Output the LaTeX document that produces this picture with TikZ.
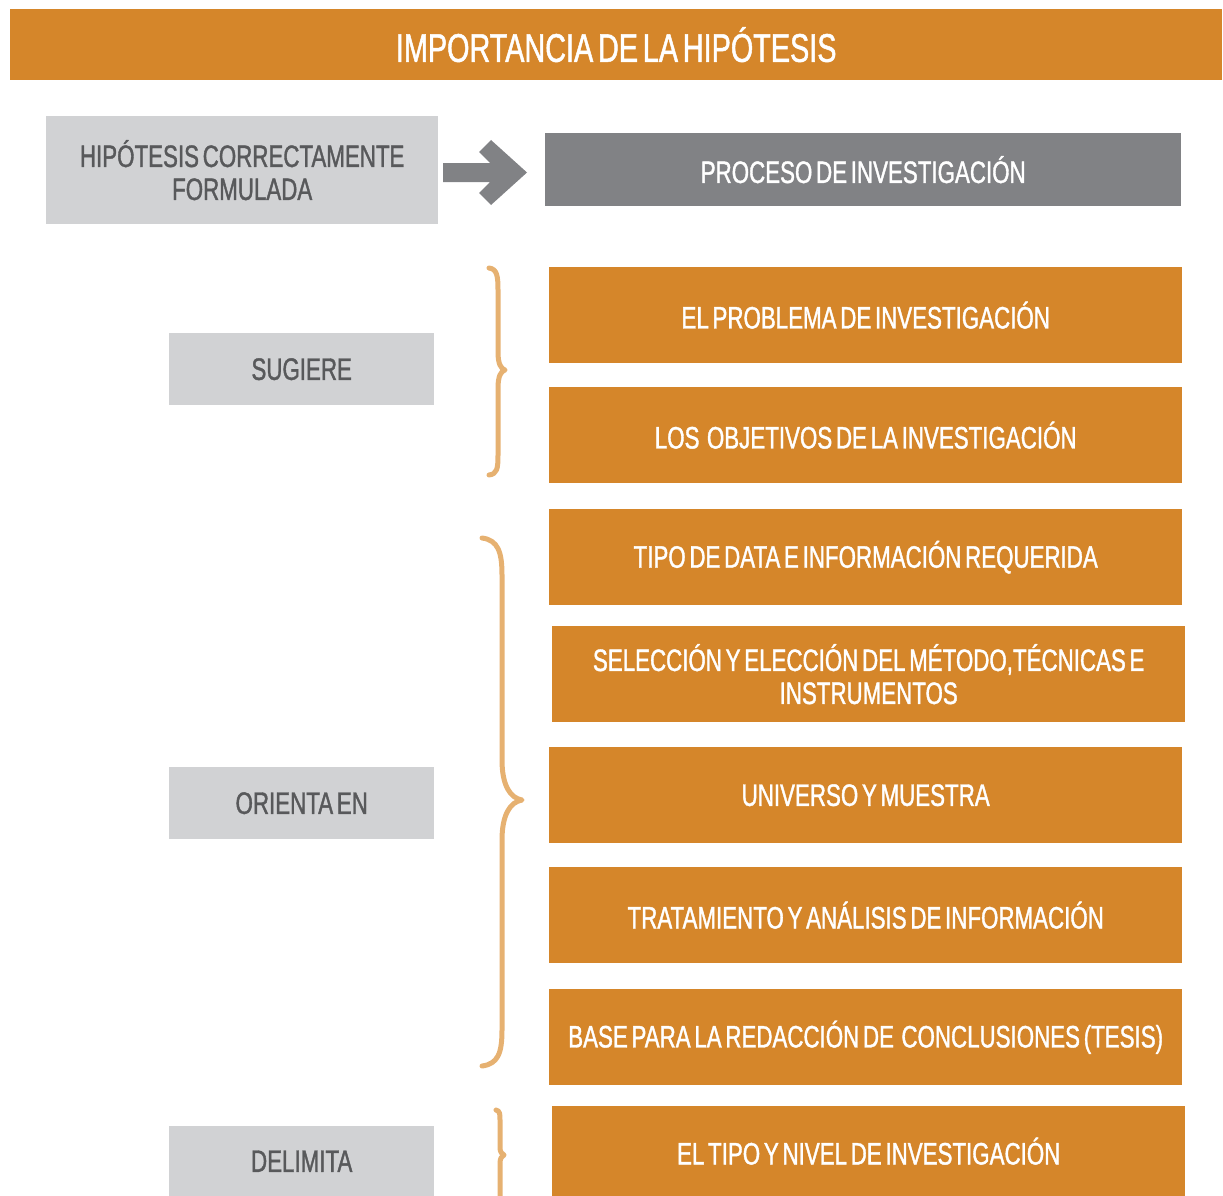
\documentclass[tikz,border=0pt]{standalone}
\usepackage{fontspec}
\setmainfont{Liberation Sans}[FakeStretch=0.72, FakeBold=1.2, WordSpace=0.6]
\definecolor{orng}{HTML}{D5862A}
\definecolor{lgray}{HTML}{D1D2D4}
\definecolor{dgray}{HTML}{818285}
\definecolor{tgray}{HTML}{58595B}
\definecolor{brc}{HTML}{E6B171}
\tikzset{
  obox/.style={fill=orng, text=white, inner sep=0pt, anchor=north west, align=center, font=\fontsize{31}{33}\selectfont},
  gbox/.style={fill=lgray, text=tgray, inner sep=0pt, anchor=north west, align=center, font=\fontsize{31}{33}\selectfont},
  brace/.style={draw=brc, line width=5pt, line cap=round, line join=round}
}
\begin{document}
\begin{tikzpicture}[x=1pt,y=-1pt]
\path[use as bounding box] (0,0) rectangle (1223,1196);
\node[obox, minimum width=1212pt, minimum height=71pt, font=\fontsize{40}{42}\selectfont] (title) at (10,9) {IMPORTANCIA DE LA HIPÓTESIS};
\node[gbox, minimum width=392pt, minimum height=108pt] (hip) at (46,116) {HIPÓTESIS CORRECTAMENTE\\FORMULADA};
\node[obox, fill=dgray, minimum width=636pt, minimum height=73pt] (proc) at (545,133) {PROCESO DE INVESTIGACIÓN};
\fill[dgray] (443,163) -- (490,163) -- (479,152) -- (491,140) -- (527,172.5) -- (491,205) -- (479,193) -- (490,182) -- (443,182) -- cycle;
\node[gbox, minimum width=265pt, minimum height=72pt] (sug) at (169,333) {SUGIERE};
\node[gbox, minimum width=265pt, minimum height=72pt] (ori) at (169,767) {ORIENTA\ EN};
\node[gbox, minimum width=265pt, minimum height=70pt] (del) at (169,1126) {DELIMITA};
\node[obox, minimum width=633pt, minimum height=96pt] (b1) at (549,267) {EL PROBLEMA\ DE INVESTIGACIÓN};
\node[obox, minimum width=633pt, minimum height=96pt] (b2) at (549,387) {LOS\ \ OBJETIVOS DE LA INVESTIGACIÓN};
\node[obox, minimum width=633pt, minimum height=96pt] (b3) at (549,509) {TIPO DE DATA E INFORMACIÓN REQUERIDA};
\node[obox, minimum width=633pt, minimum height=96pt] (b4) at (552,626) {SELECCIÓN Y ELECCIÓN DEL MÉTODO,TÉCNICAS E\\INSTRUMENTOS};
\node[obox, minimum width=633pt, minimum height=96pt] (b5) at (549,747) {UNIVERSO Y MUESTRA};
\node[obox, minimum width=633pt, minimum height=96pt] (b6) at (549,867) {TRATAMIENTO Y ANÁLISIS DE INFORMACIÓN};
\node[obox, minimum width=633pt, minimum height=96pt] (b7) at (549,989) {BASE PARA LA REDACCIÓN DE\ \ CONCLUSIONES (TESIS)};
\node[obox, minimum width=633pt, minimum height=90pt] (b8) at (552,1106) {EL TIPO Y NIVEL DE INVESTIGACIÓN};
% braces
\draw[brace] (489,268) .. controls (497,269) and (498,276) .. (498,290) -- (498,352) .. controls (498,364) and (501,369) .. (505,370) .. controls (501,371) and (498,376) .. (498,388) -- (498,455) .. controls (498,469) and (497,474) .. (489,475);
\draw[brace] (482,538) .. controls (498,540) and (502,552) .. (502,575) -- (502,760) .. controls (502,785) and (510,798) .. (522,800) .. controls (510,802) and (502,815) .. (502,840) -- (502,1030) .. controls (502,1053) and (498,1064) .. (482,1066);
\draw[brace] (496,1110) .. controls (500,1111) and (500,1114) .. (500,1120) -- (500,1148) .. controls (500,1152) and (502,1154) .. (504,1155) .. controls (502,1156) and (500,1158) .. (500,1163) -- (500,1196);
\end{tikzpicture}
\end{document}
